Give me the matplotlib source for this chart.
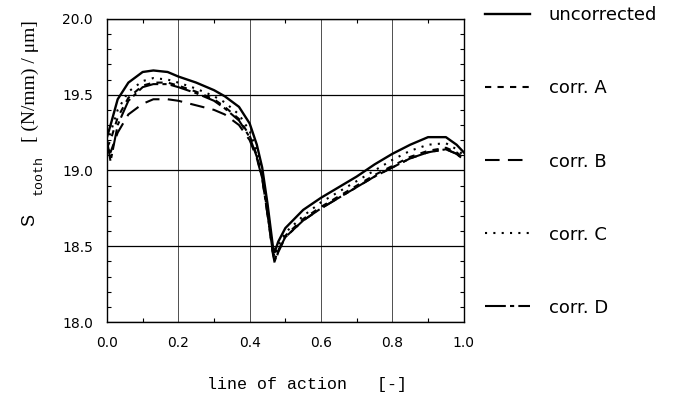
import matplotlib
matplotlib.use("Agg")
import matplotlib.pyplot as plt
from matplotlib.ticker import MultipleLocator, FormatStrFormatter

# line of action positions
x = [0.0, 0.01, 0.03, 0.06, 0.10, 0.13, 0.17, 0.20, 0.25, 0.30, 0.33, 0.37,
     0.40, 0.42, 0.435, 0.45, 0.465, 0.47, 0.48, 0.50, 0.55, 0.60, 0.65,
     0.70, 0.75, 0.80, 0.85, 0.90, 0.95, 0.98, 1.0]

uncorrected = [19.22, 19.30, 19.47, 19.58, 19.65, 19.66, 19.65, 19.62, 19.58, 19.53, 19.49, 19.42,
               19.31, 19.17, 19.02, 18.78, 18.50, 18.46, 18.53, 18.62, 18.74, 18.82, 18.89,
               18.96, 19.04, 19.11, 19.17, 19.22, 19.22, 19.17, 19.12]
corr_a = [19.15, 19.20, 19.35, 19.48, 19.56, 19.58, 19.58, 19.56, 19.52, 19.47, 19.42, 19.34,
          19.23, 19.10, 18.96, 18.72, 18.46, 18.41, 18.47, 18.57, 18.68, 18.76, 18.83,
          18.90, 18.97, 19.03, 19.09, 19.13, 19.15, 19.12, 19.08]
corr_b = [19.15, 19.12, 19.25, 19.37, 19.44, 19.47, 19.47, 19.46, 19.43, 19.40, 19.37, 19.30,
          19.20, 19.08, 18.95, 18.71, 18.45, 18.39, 18.46, 18.56, 18.67, 18.75, 18.82,
          18.89, 18.96, 19.02, 19.08, 19.12, 19.14, 19.11, 19.07]
corr_c = [19.18, 19.25, 19.40, 19.52, 19.59, 19.61, 19.60, 19.58, 19.54, 19.49, 19.45, 19.37,
          19.26, 19.13, 18.99, 18.75, 18.47, 18.43, 18.50, 18.59, 18.70, 18.79, 18.86,
          18.93, 19.00, 19.07, 19.13, 19.17, 19.18, 19.14, 19.10]
corr_d = [19.20, 19.06, 19.30, 19.46, 19.55, 19.57, 19.57, 19.55, 19.51, 19.46, 19.41, 19.33,
          19.22, 19.09, 18.95, 18.71, 18.46, 18.40, 18.47, 18.56, 18.67, 18.75, 18.82,
          18.89, 18.96, 19.02, 19.08, 19.12, 19.14, 19.11, 19.07]

labels = ["uncorrected", "corr. A", "corr. B", "corr. C", "corr. D"]

fig = plt.figure(figsize=(6.75, 4.12), dpi=100)
ax = fig.add_axes([0.1585, 0.2184, 0.5285, 0.7356])

ax.plot(x, uncorrected, color="black", lw=1.7, label=labels[0])
ax.plot(x, corr_a, color="black", lw=1.5, dashes=(3, 3), label=labels[1])
ax.plot(x, corr_b, color="black", lw=1.5, dashes=(7, 4), label=labels[2])
ax.plot(x, corr_c, color="black", lw=1.5, dashes=(1, 3), label=labels[3])
ax.plot(x, corr_d, color="black", lw=1.5, dashes=(10, 2, 2, 2), label=labels[4])

ax.set_xlim(0, 1)
ax.set_ylim(18, 20)
ax.xaxis.set_major_locator(MultipleLocator(0.2))
ax.xaxis.set_minor_locator(MultipleLocator(0.1))
ax.yaxis.set_major_locator(MultipleLocator(0.5))
ax.yaxis.set_minor_locator(MultipleLocator(0.1))
ax.xaxis.set_major_formatter(FormatStrFormatter("%.1f"))
ax.yaxis.set_major_formatter(FormatStrFormatter("%.1f"))
ax.tick_params(which="both", direction="in", top=True, right=True)
ax.tick_params(which="major", length=0, labelsize=10)
ax.tick_params(axis="x", which="major", pad=10)
ax.tick_params(axis="y", which="major", pad=10)
ax.tick_params(which="minor", length=3, width=0.8)
for lbl in ax.get_xticklabels() + ax.get_yticklabels():
    lbl.set_family("DejaVu Sans")
ax.xaxis.grid(True, which="major", color="#333333", lw=0.6)
ax.yaxis.grid(True, which="major", color="black", lw=0.9)
for sp in ax.spines.values():
    sp.set_linewidth(1.0)

# axis labels
fig.text(307 / 675, 1 - 385 / 412, "line of action   [-]", family="Liberation Mono",
         fontsize=12, ha="center", va="center")
fig.text(30 / 675, 1 - 220 / 412, "S", family="Liberation Sans", fontsize=13,
         rotation=90, ha="center", va="center")
fig.text(39 / 675, 1 - 175 / 412, "tooth", family="Liberation Mono", fontsize=9.5,
         rotation=90, ha="center", va="center")
fig.text(30 / 675, 1 - 81 / 412, "[ (N/mm) / \u03bcm]", family="Liberation Serif",
         fontsize=14, rotation=90, ha="center", va="center")

ax.legend(loc="upper left", bbox_to_anchor=(1.015, 1.095), frameon=False,
          handlelength=2.5, handletextpad=1.0, labelspacing=3.05,
          prop={"family": "DejaVu Sans", "size": 13})

fig.savefig("out.png", dpi=100)
